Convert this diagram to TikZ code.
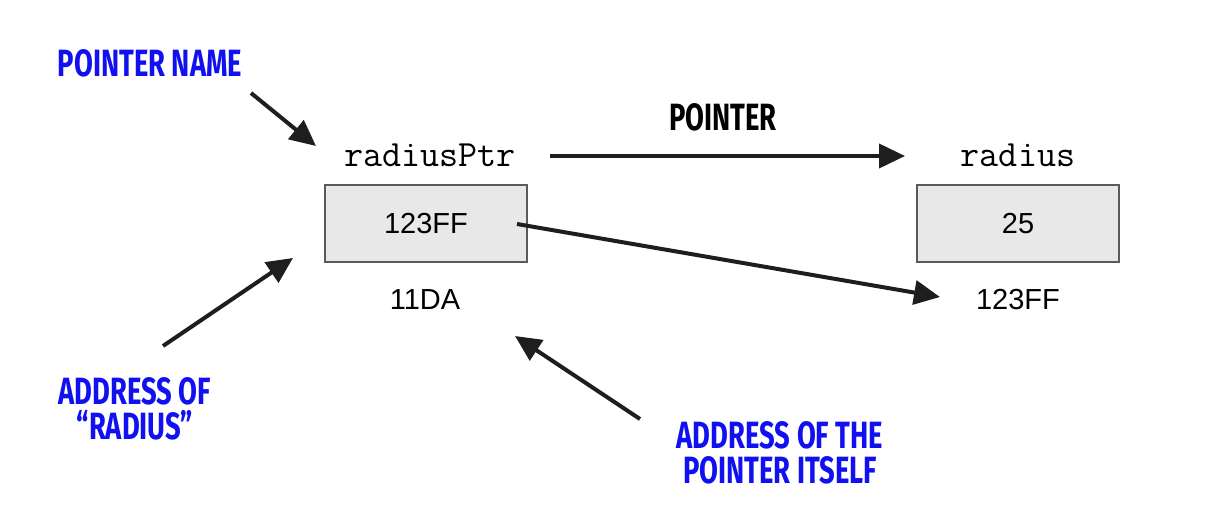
\documentclass[tikz,border=0pt]{standalone}
\usepackage{fontspec}
\setmainfont{Liberation Sans}
\newfontfamily\handfont{Fira Sans}[FakeStretch=0.72]
\usetikzlibrary{arrows.meta}
\definecolor{boxfill}{HTML}{E8E8E8}
\definecolor{boxline}{HTML}{5A5A5A}
\definecolor{handblue}{HTML}{1010F0}
\definecolor{arrowc}{HTML}{1E1E1E}
\tikzset{
  cell/.style={draw=boxline, fill=boxfill, line width=1.5pt, minimum width=202pt, minimum height=77pt, inner sep=0pt, font=\fontsize{29}{29}\selectfont},
  vname/.style={font=\ttfamily\fontsize{37}{37}\selectfont, inner sep=0pt},
  addr/.style={font=\fontsize{29}{29}\selectfont, inner sep=0pt},
  note/.style={font=\handfont\bfseries\fontsize{38}{35}\selectfont, text=handblue, align=center, inner sep=0pt},
  arr/.style={draw=arrowc, line width=4pt, -{Triangle[length=26pt,width=24pt]}}
}
\begin{document}
\begin{tikzpicture}[x=1pt,y=-1pt]
\useasboundingbox (0,0) rectangle (1231,524);
\node[cell] (p) at (426,223.5) {123FF};
\node[cell] (r) at (1018,223.5) {25};
\node[vname] (pn) at (430,155) {radiusPtr};
\node[vname] (rn) at (1018,155) {radius};
\node[addr] (pa) at (425,300) {11DA};
\node[addr] (ra) at (1018,300) {123FF};
\node[note] (n1) at (150,63) {POINTER NAME};
\node[note, text=black] (n2) at (723,117) {POINTER};
\node[note] (n3) at (135,409) {ADDRESS OF\\“RADIUS”};
\node[note] (n4) at (780,453) {ADDRESS OF THE\\POINTER ITSELF};
\coordinate (a1s) at (251,93);
\coordinate (a1e) at (316,146);
\coordinate (a2s) at (550,156);
\coordinate (a2e) at (905,156);
\coordinate (a3s) at (517,224);
\coordinate (a3e) at (940,297);
\coordinate (a4s) at (163,346);
\coordinate (a4e) at (293,258);
\coordinate (a5s) at (640,419);
\coordinate (a5e) at (515,336);
\draw[arr] (a1s) -- (a1e);
\draw[arr] (a2s) -- (a2e);
\draw[arr] (a3s) -- (a3e);
\draw[arr] (a4s) -- (a4e);
\draw[arr] (a5s) -- (a5e);
\end{tikzpicture}
\end{document}
